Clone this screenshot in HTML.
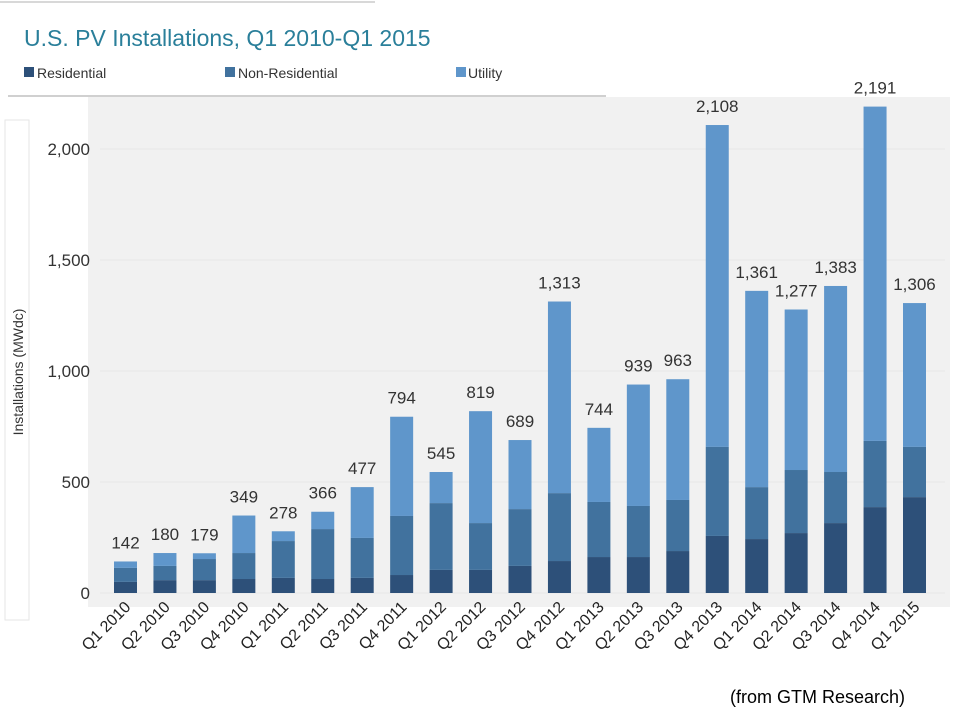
<!DOCTYPE html>
<html><head><meta charset="utf-8">
<style>
body{margin:0;background:#fff;width:960px;height:720px;overflow:hidden;font-family:"Liberation Sans",sans-serif;}
</style></head>
<body>
<svg id="chart" width="960" height="720" xmlns="http://www.w3.org/2000/svg">
  <rect x="88" y="97" width="862" height="510" fill="#f1f1f1"/>
  <rect x="5" y="120" width="24" height="500" fill="none" stroke="#e6e6e6"/>
  <rect x="8" y="10" width="598" height="86" fill="#fff"/>
  <line x1="8" y1="96" x2="606" y2="96" stroke="#d0d0d0" stroke-width="2"/>
  <line x1="0" y1="2" x2="375" y2="2" stroke="#d8d8d8" stroke-width="2"/>
  <text x="24" y="46" font-size="23" fill="#2a7f9a">U.S. PV Installations, Q1 2010-Q1 2015</text>
  <g>
    <g><rect x="24" y="67" width="10" height="10" fill="#2d5079"/><text x="37" y="78" font-size="14" fill="#333">Residential</text></g>
    <g><rect x="225" y="67" width="10" height="10" fill="#41729e"/><text x="238" y="78" font-size="14" fill="#333">Non-Residential</text></g>
    <g><rect x="456" y="67" width="10" height="10" fill="#5f96cb"/><text x="468" y="78" font-size="14" fill="#333">Utility</text></g>
  </g>
  <text transform="translate(23,372) rotate(-90)" text-anchor="middle" font-size="14" fill="#333">Installations (MWdc)</text>
  <text x="730" y="703" font-size="18" fill="#000">(from GTM Research)</text>
  <g id="grid"></g><g id="bars"></g><g id="labels"></g>
</svg>
<script>
const categories=["Q1 2010","Q2 2010","Q3 2010","Q4 2010","Q1 2011","Q2 2011","Q3 2011","Q4 2011","Q1 2012","Q2 2012","Q3 2012","Q4 2012","Q1 2013","Q2 2013","Q3 2013","Q4 2013","Q1 2014","Q2 2014","Q3 2014","Q4 2014","Q1 2015"];
const residential=[50,58,58,63,68,63,68,81,104,104,122,144,162,162,189,257,243,270,315,387,432];
const nonResidential=[63,64,95,117,166,225,180,266,301,211,256,306,248,230,230,401,234,284,230,298,226];
const utility=[29,58,26,169,44,78,229,447,140,504,311,863,334,547,544,1450,884,723,838,1506,648];
const totalLabels=["142","180","179","349","278","366","477","794","545","819","689","1,313","744","939","963","2,108","1,361","1,277","1,383","2,191","1,306"];
const yTicks=[0,500,1000,1500,2000];
const yTickLabels=["0","500","1,000","1,500","2,000"];

const NS="http://www.w3.org/2000/svg";
const y0=593, pxPerUnit=0.222;
function yScale(v){return y0-v*pxPerUnit;}
function xScale(i){return 125.5+i*39.45;}
const barW=23;
function mk(tag,attrs,parent){const e=document.createElementNS(NS,tag);for(const k in attrs)e.setAttribute(k,attrs[k]);parent.appendChild(e);return e;}
const grid=document.getElementById('grid'),bars=document.getElementById('bars'),labels=document.getElementById('labels');
yTicks.forEach((t,i)=>{
  const l=mk('line',{x1:100,x2:945,y1:yScale(t),y2:yScale(t),stroke:'#e6e6e6','stroke-width':1},grid);
  
  
  const tx=mk('text',{x:90,y:yScale(t)+6,'text-anchor':'end','font-size':17,fill:'#333'},grid);
  tx.textContent=yTickLabels[i];
  
  
});
const series=[[residential,'#2d5079','residential'],[nonResidential,'#41729e','non-residential'],[utility,'#5f96cb','utility']];
categories.forEach((c,i)=>{
  let cum=0;const x=xScale(i)-barW/2;
  series.forEach(([arr,col,nm])=>{
    const r=mk('rect',{x:x,y:yScale(cum+arr[i]),width:barW,height:arr[i]*pxPerUnit,fill:col},bars);
    
    
    cum+=arr[i];
  });
  const t=mk('text',{x:xScale(i),y:yScale(cum)-13,'text-anchor':'middle','font-size':17,fill:'#333'},labels);
  t.textContent=totalLabels[i];
  
  
  const xl=mk('text',{transform:`translate(${xScale(i)+6},${608}) rotate(-45)`,'text-anchor':'end','font-size':16,fill:'#222'},labels);
  xl.textContent=c;
  
  
});
</script>
</body></html>
